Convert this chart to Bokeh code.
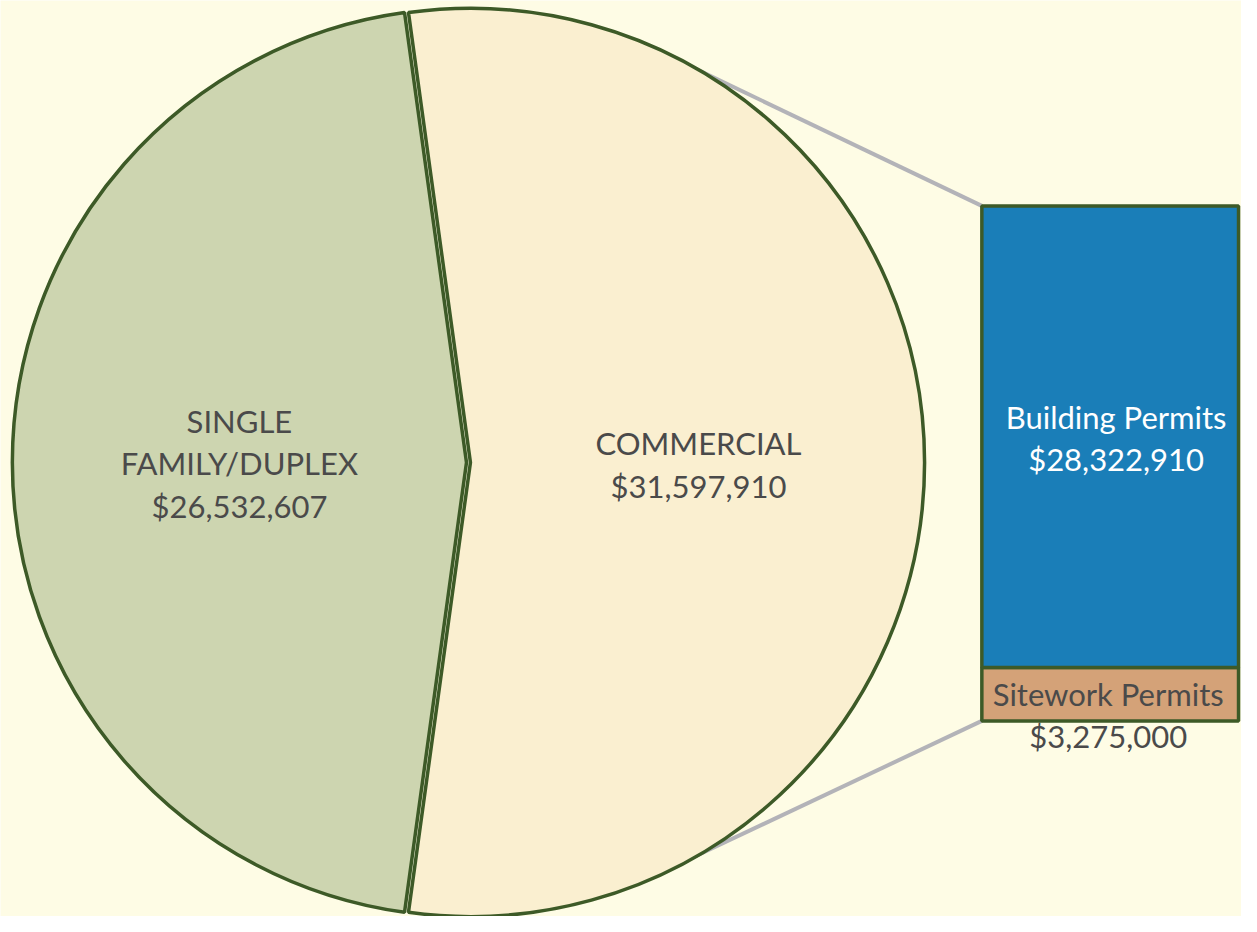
import math
from bokeh.plotting import figure
from bokeh.models import Range1d
from bokeh.core.properties import value
from bokeh.embed import file_html
from bokeh.resources import INLINE

# ---- data ----
pie_labels = ["SINGLE\nFAMILY/DUPLEX", "COMMERCIAL"]
pie_values = [26532607, 31597910]
bar_labels = ["Sitework Permits", "Building Permits"]
bar_values = [3275000, 28322910]

def money(v):
    return "${:,}".format(v)

# ---- layout (reference pixel space, y measured upward) ----
W, H = 1257, 932
BG = "#FEFCE5"
EDGE = "#3D5A27"
FONT = "Lato"
FS = "31px"

p = figure(width=1241, height=916, output_backend="svg", toolbar_location=None,
           x_range=Range1d(0, W), y_range=Range1d(0, H),
           background_fill_color=BG, border_fill_color=BG, min_border=0)
p.axis.visible = False
p.grid.visible = False
p.outline_line_color = None

total = sum(pie_values)
other_frac = pie_values[1] / total
half = math.pi * other_frac  # half angle of commercial slice, centred on 0
cy = H - 470
R = 460
c_comm = 476
c_single = 472

# bar region via extra y range in dollars
bar_total = sum(bar_values)
bar_bot_px, bar_top_px = H - 733, H - 209
scale = bar_total / (bar_top_px - bar_bot_px)
p.extra_y_ranges = {"bar": Range1d(-bar_bot_px * scale, (H - bar_bot_px) * scale)}
bar_left, bar_right = 994, 1254

# connector lines
ang = math.radians(62.3)
px_top = c_comm + R * math.cos(ang)
py_top = cy + R * math.sin(ang)
p.segment(x0=[px_top, px_top], y0=[py_top, cy - (py_top - cy)],
          x1=[bar_left, bar_left], y1=[bar_top_px, bar_bot_px],
          line_color="#B3B3B8", line_width=4)

# pie wedges
p.wedge(x=[c_single], y=[cy], radius=R, start_angle=[half], end_angle=[2 * math.pi - half],
        fill_color="#CDD5B0", line_color=EDGE, line_width=3.5)
p.wedge(x=[c_comm], y=[cy], radius=R, start_angle=[-half], end_angle=[half],
        fill_color="#FAEFD0", line_color=EDGE, line_width=3.5)

# stacked bar
bottoms = [0, bar_values[0]]
tops = [bar_values[0], bar_values[0] + bar_values[1]]
p.quad(left=[bar_left] * 2, right=[bar_right] * 2, bottom=bottoms, top=tops,
       fill_color=["#D4A278", "#1A7EB8"], line_color=EDGE, line_width=3.5,
       y_range_name="bar")

# labels
txt_kw = dict(text_font=value(FONT), text_font_size=value(FS), text_align="center",
              text_baseline="middle", text_line_height=1.12)
p.text(x=[242, 707], y=[H - 471, H - 472],
       text=[pie_labels[0] + "\n" + money(pie_values[0]),
             pie_labels[1] + "\n" + money(pie_values[1])],
       text_color="#4A4A4A", **txt_kw)
p.text(x=[1130], y=[H - 445], text=[bar_labels[1] + "\n" + money(bar_values[1])],
       text_color="white", **txt_kw)
p.text(x=[1122], y=[H - 727], text=[bar_labels[0] + "\n" + money(bar_values[0])],
       text_color="#4A4A4A", **txt_kw)

open("out.html", "w").write(file_html(p, INLINE))
